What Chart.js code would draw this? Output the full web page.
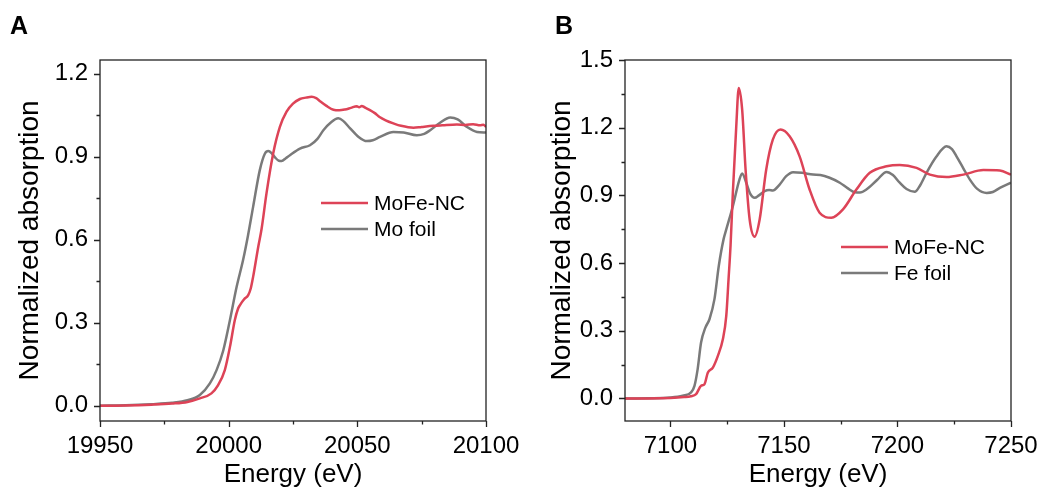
<!DOCTYPE html>
<html>
<head>
<meta charset="utf-8">
<script src="https://cdn.jsdelivr.net/npm/chart.js@4/dist/chart.umd.min.js"></script>
<style>
    html, body { margin: 0; padding: 0; background: #fff; }
    #wrap { position: relative; width: 1042px; height: 491px; overflow: hidden; }
    .panel { position: absolute; top: 0; width: 521px; height: 491px; }
    .letter { position: absolute; font-family: 'Liberation Sans', Arial, sans-serif; font-weight: bold; font-size: 25px; line-height: 25px; color: #000; }
</style>
</head>
<body>
<div id="wrap">
    <div class="panel" style="left:0"><canvas id="chart-a" width="521" height="491"></canvas></div>
    <div class="panel" style="left:521px"><canvas id="chart-b" width="521" height="491"></canvas></div>
    <div class="letter" style="left:10px;top:13px">A</div>
    <div class="letter" style="left:555px;top:13px">B</div>
</div>
<script>
// panel A - Mo K-edge
var energyA_mofe = [19950, 19960, 19970, 19978, 19984, 19988.8, 19993.3, 19995.9, 19998.5, 20000.5, 20002.4, 20003.6, 20004.4, 20006, 20007.6, 20008.6, 20009.5, 20011.5, 20012.8, 20014.7, 20017.3, 20019.9, 20022.5, 20025, 20027.7, 20030, 20032.3, 20034, 20035.5, 20038, 20040.7, 20043, 20045.2, 20047.5, 20049.8, 20050.7, 20051.7, 20053, 20054.9, 20056.8, 20058.8, 20061, 20064, 20067, 20071.8, 20075, 20079.6, 20083, 20088.7, 20092, 20095, 20097.7, 20099, 20100];
var absA_mofe = [0.000, 0.001, 0.004, 0.008, 0.014, 0.027, 0.045, 0.075, 0.129, 0.213, 0.310, 0.350, 0.364, 0.385, 0.400, 0.425, 0.466, 0.575, 0.640, 0.768, 0.912, 1.008, 1.063, 1.092, 1.109, 1.114, 1.117, 1.112, 1.101, 1.084, 1.070, 1.068, 1.071, 1.077, 1.083, 1.079, 1.084, 1.078, 1.069, 1.058, 1.043, 1.032, 1.021, 1.012, 1.005, 1.008, 1.012, 1.014, 1.017, 1.015, 1.018, 1.014, 1.016, 1.008];

var energyA_mo = [19950, 19960, 19970, 19978, 19984, 19988.8, 19992.7, 19995.3, 19997.9, 20000.5, 20003.1, 20005.6, 20007.5, 20009.5, 20012.1, 20014.1, 20015.4, 20016.8, 20018, 20019.5, 20020.6, 20022.2, 20023.8, 20027.7, 20031.6, 20034.5, 20036.8, 20039.8, 20042.6, 20044.5, 20047.2, 20050.5, 20053.7, 20056, 20058.8, 20064, 20068, 20073.1, 20076, 20078.3, 20082, 20086.1, 20089, 20092.6, 20096.5, 20100];
var absA_mo = [0.000, 0.002, 0.006, 0.011, 0.020, 0.039, 0.081, 0.129, 0.200, 0.310, 0.430, 0.527, 0.615, 0.719, 0.852, 0.912, 0.921, 0.912, 0.898, 0.886, 0.885, 0.895, 0.906, 0.930, 0.942, 0.965, 0.996, 1.025, 1.039, 1.030, 1.003, 0.972, 0.957, 0.960, 0.972, 0.990, 0.988, 0.978, 0.983, 0.996, 1.022, 1.042, 1.035, 1.008, 0.990, 0.988];

// panel B - Fe K-edge
var energyB_mofe = [7080, 7090, 7100, 7106, 7109, 7111.3, 7113.5, 7115, 7116.5, 7118.7, 7120.9, 7123.1, 7124.6, 7125.6, 7126.5, 7127.5, 7129, 7130.1, 7131.6, 7133.1, 7134.9, 7137.1, 7139.3, 7142.2, 7145.1, 7148.5, 7152.5, 7156.9, 7161.3, 7165.7, 7170.9, 7176, 7181.9, 7187.8, 7195.2, 7201, 7208.4, 7214.3, 7221.6, 7229, 7237.8, 7245.1, 7250];
var absB_mofe = [0.000, 0.000, 0.002, 0.006, 0.010, 0.019, 0.056, 0.063, 0.115, 0.137, 0.189, 0.262, 0.366, 0.528, 0.680, 0.912, 1.206, 1.376, 1.280, 1.015, 0.793, 0.717, 0.793, 1.015, 1.147, 1.192, 1.162, 1.073, 0.926, 0.823, 0.801, 0.838, 0.926, 1.000, 1.029, 1.035, 1.022, 0.992, 0.981, 0.992, 1.012, 1.010, 0.992];

var energyB_fe = [7080, 7090, 7100, 7105.4, 7109.1, 7110.6, 7112, 7113.5, 7115.4, 7117.2, 7119.4, 7121.3, 7123.4, 7124.6, 7127.5, 7130.4, 7131.6, 7133.4, 7135, 7137.1, 7139, 7141.5, 7143.5, 7145.1, 7148.1, 7151, 7154, 7158, 7162.8, 7166, 7170.1, 7174.6, 7178, 7181.2, 7183.5, 7186.3, 7191, 7195.2, 7198, 7201, 7204, 7207.6, 7210, 7212.8, 7217, 7221.6, 7224, 7226, 7229, 7231.9, 7235, 7239.3, 7242, 7245.1, 7250];
var absB_fe = [0.000, 0.001, 0.004, 0.012, 0.027, 0.056, 0.130, 0.248, 0.314, 0.351, 0.440, 0.587, 0.705, 0.749, 0.852, 0.970, 0.997, 0.956, 0.910, 0.889, 0.900, 0.919, 0.924, 0.922, 0.948, 0.985, 1.003, 1.000, 0.992, 0.990, 0.978, 0.956, 0.932, 0.914, 0.913, 0.926, 0.968, 1.004, 0.990, 0.956, 0.928, 0.916, 0.945, 1.000, 1.070, 1.118, 1.105, 1.073, 1.020, 0.970, 0.930, 0.911, 0.915, 0.933, 0.956];

// ticks
var xTicksA = [19950, 20000, 20050, 20100];
var yTicksA = [0.0, 0.3, 0.6, 0.9, 1.2];
var xTicksB = [7100, 7150, 7200, 7250];
var yTicksB = [0.0, 0.3, 0.6, 0.9, 1.2, 1.5];

var RED = '#dd4357';
var GRAY = '#7a7a7a';
var FONT = "'Liberation Sans', Arial, sans-serif";

function toPoints(xs, ys) {
    return xs.map(function (x, i) { return { x: x, y: ys[i] }; });
}

// frame box plus outward major / minor tick marks
var framePlugin = {
    id: 'frame',
    afterDatasetsDraw: function (chart) {
        var ctx = chart.ctx;
        var a = chart.chartArea;
        var sx = chart.scales.x, sy = chart.scales.y;
        ctx.save();
        ctx.strokeStyle = '#222';
        ctx.lineWidth = 1.3;
        ctx.strokeRect(a.left, a.top, a.right - a.left, a.bottom - a.top);

        function marks(scale, values) {
            var out = [];
            var step = values[1] - values[0];
            values.forEach(function (v) { out.push({ v: v, len: 6 }); });
            for (var v = values[0] - step / 2; v <= scale.max + 1e-9; v += step) {
                if (v >= scale.min - 1e-9) out.push({ v: v, len: 3.5 });
            }
            return out;
        }

        ctx.beginPath();
        marks(sx, sx.ticks.map(function (t) { return t.value; })).forEach(function (m) {
            var p = Math.round(sx.getPixelForValue(m.v)) + 0.5;
            ctx.moveTo(p, a.bottom);
            ctx.lineTo(p, a.bottom + m.len);
        });
        marks(sy, sy.ticks.map(function (t) { return t.value; })).forEach(function (m) {
            var p = Math.round(sy.getPixelForValue(m.v)) + 0.5;
            ctx.moveTo(a.left, p);
            ctx.lineTo(a.left - m.len, p);
        });
        ctx.stroke();
        ctx.restore();
    }
};

// small legend drawn inside the plot
var innerLegendPlugin = {
    id: 'innerLegend',
    afterDraw: function (chart, args, opts) {
        var ctx = chart.ctx;
        ctx.save();
        ctx.font = '21px ' + FONT;
        ctx.textBaseline = 'middle';
        ctx.textAlign = 'left';
        chart.data.datasets.forEach(function (ds, i) {
            var y = opts.y + i * 26;
            ctx.strokeStyle = ds.borderColor;
            ctx.lineWidth = 2.6;
            ctx.beginPath();
            ctx.moveTo(opts.x, y);
            ctx.lineTo(opts.x + 47, y);
            ctx.stroke();
            ctx.fillStyle = '#000';
            ctx.fillText(ds.label, opts.x + 53, y + 1);
        });
        ctx.restore();
    }
};

function MakeXasChart(id, cfg) {
    var ctx = document.getElementById(id);
    return new Chart(ctx, {
        type: 'line',
        data: {
            datasets: [{
                label: cfg.labels[0],
                data: cfg.series[0],
                borderColor: RED,
                borderWidth: 2.5,
                pointRadius: 0,
                cubicInterpolationMode: 'monotone'
            }, {
                label: cfg.labels[1],
                data: cfg.series[1],
                borderColor: GRAY,
                borderWidth: 2.5,
                pointRadius: 0,
                cubicInterpolationMode: 'monotone'
            }]
        },
        plugins: [framePlugin, innerLegendPlugin],
        options: {
            responsive: false,
            animation: false,
            devicePixelRatio: 1,
            layout: { padding: { left: 0, top: 60, right: cfg.padRight, bottom: 0 } },
            plugins: {
                legend: false,
                tooltip: { enabled: false },
                innerLegend: cfg.legend
            },
            scales: {
                x: {
                    type: 'linear',
                    min: cfg.xMin,
                    max: cfg.xMax,
                    grid: { display: false, drawTicks: false },
                    border: { display: false },
                    afterBuildTicks: function (scale) {
                        scale.ticks = cfg.xTicks.map(function (v) { return { value: v }; });
                    },
                    afterFit: function (scale) {
                        scale.height = 70;
                        scale.paddingLeft = 0;
                        scale.paddingRight = 0;
                    },
                    ticks: {
                        padding: 11,
                        maxRotation: 0,
                        autoSkip: false,
                        color: '#000',
                        font: { family: FONT, size: 24 },
                        callback: function (v) { return String(v); }
                    },
                    title: {
                        display: true,
                        text: 'Energy (eV)',
                        color: '#000',
                        font: { family: FONT, size: 26 },
                        padding: { top: 0, bottom: 1 }
                    }
                },
                y: {
                    type: 'linear',
                    min: cfg.yMin,
                    max: cfg.yMax,
                    grid: { display: false, drawTicks: false },
                    border: { display: false },
                    afterBuildTicks: function (scale) {
                        scale.ticks = cfg.yTicks.map(function (v) { return { value: v }; });
                    },
                    afterFit: function (scale) {
                        scale.width = cfg.axisWidth;
                        scale.paddingTop = 0;
                        scale.paddingBottom = 0;
                    },
                    ticks: {
                        padding: 12,
                        color: '#000',
                        font: { family: FONT, size: 24 },
                        callback: function (v) { return v.toFixed(1); }
                    },
                    title: {
                        display: true,
                        text: 'Normalized absorption',
                        color: '#000',
                        font: { family: FONT, size: 28 },
                        padding: { top: cfg.titlePad, bottom: 0 }
                    }
                }
            }
        }
    });
}

var ChartA = MakeXasChart('chart-a', {
    labels: ['MoFe-NC', 'Mo foil'],
    series: [toPoints(energyA_mofe, absA_mofe), toPoints(energyA_mo, absA_mo)],
    xMin: 19950, xMax: 20100, yMin: -0.055, yMax: 1.25,
    xTicks: xTicksA, yTicks: yTicksA,
    axisWidth: 100, padRight: 35, titlePad: 13,
    legend: { x: 321, y: 203 }
});

var ChartB = MakeXasChart('chart-b', {
    labels: ['MoFe-NC', 'Fe foil'],
    series: [toPoints(energyB_mofe, absB_mofe), toPoints(energyB_fe, absB_fe)],
    xMin: 7080, xMax: 7250, yMin: -0.1, yMax: 1.5,
    xTicks: xTicksB, yTicks: yTicksB,
    axisWidth: 104, padRight: 31, titlePad: 24,
    legend: { x: 320, y: 247 }
});
</script>
</body>
</html>
